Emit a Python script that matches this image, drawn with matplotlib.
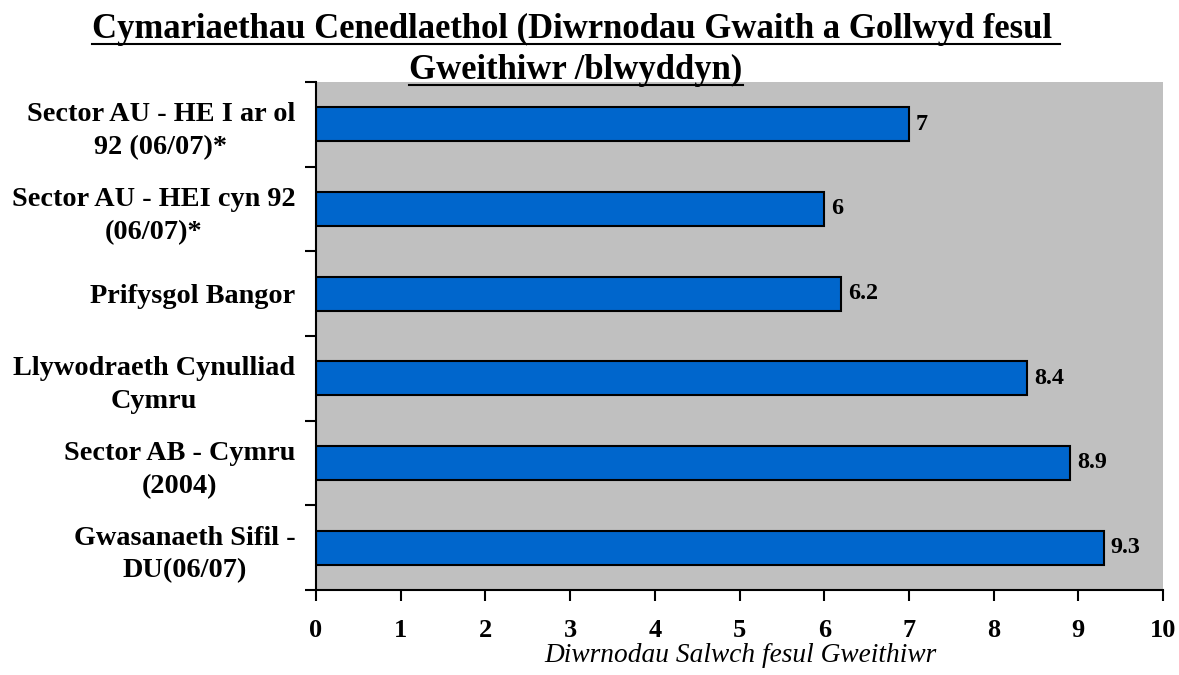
import matplotlib
matplotlib.use('Agg')
import matplotlib.pyplot as plt
from matplotlib.lines import Line2D
import numpy as np

# data (top to bottom)
labels = ['Sector AU - HE I ar ol\n92 (06/07)*',
          'Sector AU - HEI cyn 92\n(06/07)*',
          'Prifysgol Bangor',
          'Llywodraeth Cynulliad\nCymru',
          'Sector AB - Cymru\n(2004)',
          'Gwasanaeth Sifil -\nDU(06/07)']
values = [7, 6, 6.2, 8.4, 8.9, 9.3]
value_txt = ['7', '6', '6.2', '8.4', '8.9', '9.3']
xticks = list(range(0, 11))
title_lines = ['Cymariaethau Cenedlaethol (Diwrnodau Gwaith a Gollwyd fesul ',
               'Gweithiwr /blwyddyn)']
xlabel = 'Diwrnodau Salwch fesul Gweithiwr'

plt.rcParams['font.family'] = ['Liberation Serif', 'DejaVu Serif']

W, H = 1179, 675
fig = plt.figure(figsize=(W / 100, H / 100), dpi=100)
r = fig.canvas.get_renderer()


def fit_size(s, px, **kw):
    # font size that gives the wanted pixel width
    t = fig.text(0, 0, s, fontsize=10, **kw)
    w = t.get_window_extent(r).width
    t.remove()
    return 10 * px / w


lab_fs = fit_size('Llywodraeth Cynulliad', 283, fontweight='bold')
title_fs = 0.5 * (fit_size(title_lines[1], 338, fontweight='bold') +
                  fit_size(title_lines[0], 958, fontweight='bold'))
val_fs = fit_size('9.3', 30, fontweight='bold')
xl_fs = fit_size('Salwch fesul Gweithiwr', 261, fontstyle='italic')

ax = fig.add_axes([316 / W, 1 - 590 / H, (1163 - 316) / W, (590 - 82) / H])
ax.set_facecolor('#c0c0c0')

y = np.arange(len(labels))
ax.barh(y, values, height=0.4, color='#0066cc', edgecolor='black', linewidth=1.5)
for yi, v, t in zip(y, values, value_txt):
    ax.annotate(t, (v, yi), xytext=(5, 0), textcoords='offset points',
                va='center', ha='left', fontsize=val_fs, fontweight='bold')

ax.set_xlim(0, 10)
ax.set_ylim(len(labels) - 0.5, -0.5)
ax.set_xticks(xticks)
ax.set_xticklabels([str(t) for t in xticks], fontsize=19, fontweight='bold')
ax.set_yticks(y)
ax.set_yticklabels(labels, fontsize=lab_fs, fontweight='bold', linespacing=1.4)
ax.set_yticks(np.arange(-0.5, len(labels)), minor=True)
ax.tick_params(axis='y', which='major', length=0, pad=15)
ax.tick_params(axis='y', which='minor', length=8, width=1.5, direction='out')
ax.tick_params(axis='x', length=8, width=1.5, direction='out', pad=13)
for lab in ax.get_yticklabels():
    lab.set_multialignment('center')

for s in ['top', 'right']:
    ax.spines[s].set_visible(False)
for s in ['left', 'bottom']:
    ax.spines[s].set_linewidth(1.5)

fig.text(740 / W, 1 - 655 / H, xlabel, ha='center', va='center',
         fontsize=xl_fs, fontstyle='italic')

# underlined two-line title
for line, base in zip(title_lines, [38, 79]):
    t = fig.text(576 / W, 1 - base / H, line, ha='center', va='baseline',
                 fontsize=title_fs, fontweight='bold')
    bb = t.get_window_extent(r)
    yl = 1 - (base + 5.5) / H
    fig.add_artist(Line2D([bb.x0 / W, bb.x1 / W], [yl, yl], color='black',
                          lw=1.5, transform=fig.transFigure, zorder=5))

fig.savefig('out.png', dpi=100)
